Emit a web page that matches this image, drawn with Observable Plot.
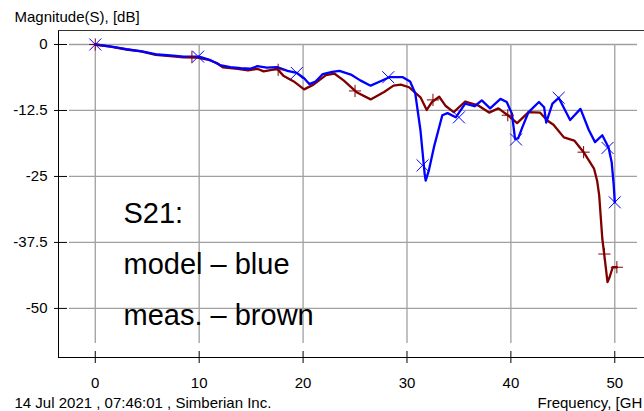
<!DOCTYPE html>
<html><head><meta charset="utf-8">
<script src="https://cdn.jsdelivr.net/npm/d3@7"></script>
<script src="https://cdn.jsdelivr.net/npm/@observablehq/plot@0.6"></script>
<style>body{margin:0;background:#fff}svg{display:block}</style>
</head><body><div id="chart"></div>
<script>
// Model (blue) S21 curve
const modelFreq = [0,1.5,3,4.5,6,7.5,8.5,10,11,12,13,14,14.9,15.6,16.5,17.5,18.5,19.4,20.1,20.6,21.2,21.9,22.8,23.5,24.6,25.5,26.5,27.4,28.3,29.6,30.3,30.8,31.3,31.7,31.8,32.1,32.6,33.4,33.9,34.7,35.6,36.5,37.2,38.0,39.0,39.6,40.1,40.4,40.7,41.1,41.7,42.7,43.2,43.4,44.0,44.6,45.7,46.7,47.5,48.1,48.8,49.4,49.7,49.9,50.0];
const modelDb   = [0,-0.4,-0.9,-1.3,-1.9,-2.1,-2.3,-2.3,-2.9,-3.9,-4.3,-4.5,-4.6,-4.1,-4.4,-4.3,-5.0,-5.4,-6.4,-7.5,-7.0,-5.6,-5.2,-5.0,-5.7,-6.8,-7.8,-7.0,-6.2,-6.2,-7.0,-9.3,-16.3,-24.5,-25.8,-23.9,-19.4,-13.4,-13.0,-13.8,-11.2,-11.7,-10.6,-12.1,-10.3,-10.9,-13.1,-17.9,-17.8,-15.7,-12.8,-10.9,-11.9,-14.8,-11.2,-10.1,-14.3,-12.2,-16.2,-18.5,-17.2,-19.5,-22.3,-26.7,-29.9];
// Measured (brown) S21 curve
const measFreq = [0,1.5,3,4.4,5.8,7.2,8.5,9.8,10.8,11.7,12.3,13.7,14.7,15.6,16.2,17.5,18.1,19.1,20.1,21.0,22.2,23.0,23.9,25.2,26.5,27.8,28.7,29.4,30.2,31.3,31.9,32.4,33.1,33.7,34.5,35.6,36.9,37.9,38.8,39.7,40.6,41.7,42.8,43.5,44.1,45.1,46.1,47.0,48.0,48.3,48.5,48.8,49.0,49.3,49.5,49.8,50.2];
const measDb   = [0,-0.4,-0.95,-1.3,-1.95,-2.2,-2.45,-2.5,-2.85,-3.5,-4.35,-4.6,-4.9,-4.6,-5.1,-4.6,-5.9,-7.0,-8.5,-7.6,-5.8,-5.5,-6.8,-9.1,-10.4,-9.0,-7.8,-7.6,-8.1,-10.0,-12.4,-10.9,-9.9,-11.6,-12.8,-10.8,-11.6,-12.9,-12.1,-13.4,-14.9,-12.8,-12.9,-14.4,-15.2,-17.6,-18.2,-20.4,-23.5,-25.8,-28.6,-36.8,-40.0,-45.0,-44.1,-42.2,-42.2];
// Markers
const modelMarkFreq = [0,9.9,19.4,28.2,31.5,35.0,40.5,44.6,49.3,50.0];
const modelMarkDb   = [0,-2.3,-5.4,-6.2,-22.9,-13.8,-18.0,-10.1,-19.6,-29.9];
const measMarkFreq  = [0,9.3,17.6,25.0,32.5,39.7,47.0,49.0,50.2];
const measMarkDb    = [0,-2.4,-4.8,-8.8,-10.5,-13.4,-20.4,-39.7,-42.2];

const xTicks = [0,10,20,30,40,50];
const yTicks = [0,-12.5,-25,-37.5,-50];
const xDomain = [-3.54, 52.86];
const yDomain = [-59.3, 2.65];
const yTitle = "Magnitude(S), [dB]";
const xTitle = "Frequency, [GH";
const footer = "14 Jul 2021 , 07:46:01 , Simberian Inc.";
const legendLines = ["S21:", "model – blue", "meas. – brown"];

const model = modelFreq.map((f,i)=>({f, db: modelDb[i]}));
const meas = measFreq.map((f,i)=>({f, db: measDb[i]}));
const modelMarks = modelMarkFreq.map((f,i)=>({f, db: modelMarkDb[i]}));
const measMarks = measMarkFreq.map((f,i)=>({f, db: measMarkDb[i]}));

const BLUE = "#0000ff", BROWN = "#800000", GRID = "#a0a0a0";

const chart = Plot.plot({
  width: 644, height: 411,
  marginLeft: 58, marginRight: 0, marginTop: 30, marginBottom: 54,
  style: {fontFamily: "'Liberation Sans', Arial, sans-serif", fontSize: "15px", color: "#000", background: "#fff"},
  x: {domain: xDomain},
  y: {domain: yDomain},
  marks: [
    Plot.gridY(yTicks, {stroke: GRID, strokeOpacity: 1, strokeWidth: 1.3, insetLeft: 11, insetRight: 7}),
    Plot.gridX(xTicks, {stroke: GRID, strokeOpacity: 1, strokeWidth: 1.3, insetTop: 14, insetBottom: 14}),
    Plot.ruleY(yTicks, {stroke: "#000", insetLeft: -4, insetRight: 577}),
    Plot.ruleX(xTicks, {stroke: "#000", insetTop: 321, insetBottom: -6}),
    Plot.ruleX([xDomain[0]], {stroke: "#000"}),
    Plot.ruleY([yDomain[0]], {stroke: "#000"}),
    Plot.ruleY([yDomain[1]], {stroke: "#333"}),
    Plot.axisY({ticks: yTicks, tickSize: 0, tickPadding: 11, tickFormat: d => String(d), label: null, fill: "#000"}),
    Plot.axisX({ticks: xTicks, tickSize: 0, tickPadding: 20, tickFormat: d => String(d), label: null, fill: "#000"}),
    Plot.line(meas, {x: "f", y: "db", stroke: BROWN, strokeWidth: 2.3}),
    Plot.line(model, {x: "f", y: "db", stroke: BLUE, strokeWidth: 2.3}),
    Plot.dot(measMarks, {x: "f", y: "db", symbol: "plus", r: 4, stroke: BROWN, strokeWidth: 1}),
    Plot.dot(modelMarks, {x: "f", y: "db", symbol: "times", r: 5.5, stroke: BLUE, strokeWidth: 1}),
    Plot.text([legendLines.join("\n")], {frameAnchor: "top-left", text: d => d, textAnchor: "start", lineAnchor: "bottom", lineHeight: 1.742, dx: 65, dy: 294, fontSize: 29, fill: "#000", fontFamily: "'Liberation Sans', Arial, sans-serif"}),
    Plot.text([yTitle], {frameAnchor: "top-left", text: d => d, textAnchor: "start", lineAnchor: "bottom", dx: -44, dy: -8.5, fill: "#000"}),
    Plot.text([footer], {frameAnchor: "bottom-left", text: d => d, textAnchor: "start", lineAnchor: "bottom", dx: -44, dy: 50.5, fill: "#000"}),
    Plot.text([xTitle], {frameAnchor: "bottom-right", text: d => d, textAnchor: "start", lineAnchor: "bottom", dx: -107, dy: 50.5, fill: "#000"})
  ]
});
document.getElementById("chart").appendChild(chart);
</script>
</body></html>
